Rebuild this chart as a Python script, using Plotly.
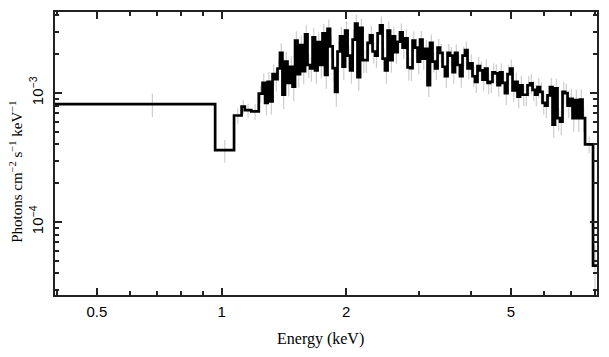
import math
import plotly.graph_objects as go

# Energy bin edges (keV)
energy_edges = [
    0.396, 0.965, 1.072, 1.118, 1.138, 1.180, 1.230,
    1.256, 1.274, 1.292, 1.310, 1.328, 1.346, 1.365, 1.384, 1.403, 1.423, 1.443, 1.464,
    1.484, 1.505, 1.526, 1.547, 1.569, 1.591, 1.613, 1.636, 1.659, 1.682, 1.706, 1.729,
    1.753, 1.778, 1.803, 1.829, 1.855, 1.880, 1.906, 1.933, 1.960, 1.988, 2.016, 2.044,
    2.073, 2.101, 2.130, 2.161, 2.191, 2.222, 2.253, 2.284, 2.316, 2.349, 2.382, 2.415,
    2.449, 2.483, 2.518, 2.553, 2.589, 2.625, 2.662, 2.699, 2.737, 2.775, 2.814, 2.853,
    2.893, 2.934, 2.975, 3.016,
    3.058, 3.101, 3.144, 3.188, 3.233, 3.279, 3.325, 3.371, 3.418, 3.466, 3.515, 3.564,
    3.614, 3.664, 3.715, 3.767, 3.820, 3.874, 3.928, 3.982, 4.038, 4.095, 4.152, 4.210,
    4.269, 4.329, 4.390, 4.451, 4.513, 4.576, 4.640, 4.705, 4.771, 4.838, 4.906, 4.975,
    5.045, 5.115, 5.187, 5.260, 5.334, 5.408, 5.484, 5.561, 5.639, 5.717, 5.797, 5.879,
    5.961, 6.044, 6.129, 6.215, 6.302, 6.390, 6.479, 6.570, 6.662, 6.756, 6.851, 6.946,
    7.043, 7.142, 7.242, 7.343, 7.446, 7.551, 7.894, 8.07,
]

# Unfolded flux, units of 1e-3 photons cm^-2 s^-1 keV^-1
flux = [
    0.82, 0.361, 0.67, 0.785, 0.738, 0.72,
    0.99, 1.20, 0.84, 1.22, 0.86, 1.40, 1.28, 1.55, 2.05, 0.97, 1.75, 1.20,
    1.60, 1.12, 2.55, 1.40, 2.35, 1.48, 2.85, 1.65, 1.55, 2.70, 1.50, 2.48,
    1.65, 2.90, 1.38, 3.15, 2.30, 1.56, 1.02, 2.10, 2.75, 1.60, 3.05, 1.95,
    1.50, 2.60, 3.45, 1.33, 3.20, 1.80, 1.80, 2.45, 2.80, 2.10, 1.95, 2.90,
    3.35, 1.85, 1.50, 3.05, 1.80, 2.75, 2.08, 2.50, 2.95, 2.25, 2.65, 1.58,
    1.56, 2.55, 2.25, 1.75,
    2.60, 1.85, 2.20, 1.15, 2.45, 1.75, 1.55, 2.25, 2.05, 1.60, 1.35, 2.05,
    1.95, 1.45, 2.05, 1.65, 1.35, 1.95, 2.15, 1.55, 1.70, 1.35, 1.22, 1.62,
    1.50, 1.27, 1.55, 1.20, 1.22, 1.45, 1.42, 1.15, 1.45, 1.20, 1.00, 1.40,
    1.55, 1.05, 1.22, 0.94, 1.15, 0.97, 0.97, 1.15, 1.19, 1.06, 0.97, 1.11,
    1.02, 0.84, 0.80, 0.96, 1.11, 0.57, 1.09, 0.64, 0.60, 1.02, 1.00, 0.80,
    0.90, 0.64, 0.88, 0.64, 0.89, 0.64, 0.40, 0.046,
]

flux_err = [
    0.17, 0.072, 0.09, 0.10, 0.09, 0.10,
    0.15, 0.22, 0.17, 0.24, 0.18, 0.27, 0.25, 0.30, 0.38, 0.22, 0.34, 0.26,
    0.32, 0.25, 0.46, 0.30, 0.44, 0.31, 0.52, 0.34, 0.33, 0.50, 0.32, 0.47,
    0.35, 0.53, 0.30, 0.56, 0.45, 0.33, 0.24, 0.42, 0.51, 0.34, 0.55, 0.39,
    0.32, 0.48, 0.60, 0.29, 0.57, 0.37, 0.37, 0.46, 0.51, 0.41, 0.39, 0.52,
    0.58, 0.38, 0.32, 0.54, 0.36, 0.49, 0.40, 0.46, 0.52, 0.42, 0.48, 0.33,
    0.32, 0.46, 0.41, 0.35,
    0.42, 0.34, 0.38, 0.22, 0.40, 0.31, 0.29, 0.38, 0.35, 0.29, 0.26, 0.35,
    0.33, 0.27, 0.34, 0.29, 0.25, 0.33, 0.35, 0.27, 0.29, 0.24, 0.22, 0.28,
    0.26, 0.23, 0.27, 0.22, 0.22, 0.25, 0.25, 0.21, 0.25, 0.22, 0.19, 0.24,
    0.27, 0.20, 0.22, 0.18, 0.21, 0.18, 0.18, 0.21, 0.21, 0.19, 0.18, 0.20,
    0.19, 0.16, 0.16, 0.18, 0.20, 0.12, 0.20, 0.13, 0.13, 0.19, 0.18, 0.16,
    0.18, 0.14, 0.18, 0.14, 0.18, 0.14, 0.06, 0.02,
]

x_tick_vals = [0.5, 1, 2, 5]
x_tick_text = ["0.5", "1", "2", "5"]
x_minor_vals = [0.4, 0.6, 0.7, 0.8, 0.9, 3, 4, 6, 7, 8]
y_tick_vals = [1e-4, 1e-3]
y_tick_text = ["10<sup>\u22124</sup>", "10<sup>\u22123</sup>"]
y_minor_vals = [3e-5, 4e-5, 5e-5, 6e-5, 7e-5, 8e-5, 9e-5,
                2e-4, 3e-4, 4e-4, 5e-4, 6e-4, 7e-4, 8e-4, 9e-4,
                2e-3, 3e-3, 4e-3]

SCALE = 1e-3
y_vals = [v * SCALE for v in flux]
y_errs = [e * SCALE for e in flux_err]
centres = [(a + b) / 2 for a, b in zip(energy_edges[:-1], energy_edges[1:])]

fig = go.Figure()
fig.add_trace(go.Scatter(
    x=centres, y=y_vals, mode="markers",
    marker=dict(size=1, color="rgba(0,0,0,0)"),
    error_y=dict(type="data", array=y_errs, visible=True, color="#c4c4c4",
                 thickness=1, width=0),
    hoverinfo="skip", showlegend=False,
))
fig.add_trace(go.Scatter(
    x=energy_edges, y=y_vals + [y_vals[-1]], mode="lines",
    line=dict(color="black", width=2.7, shape="hv"),
    showlegend=False,
))

axis_color = "#222222"
# the page body keeps an 8px default margin, so the figure is sized to fit inside it
fig.update_layout(
    width=601, height=349,
    margin=dict(l=47, r=12, t=4, b=62),
    paper_bgcolor="white", plot_bgcolor="white",
    font=dict(family="Liberation Sans", color="black", size=15),
    xaxis=dict(
        type="log", range=[math.log10(0.396), math.log10(8.07)],
        tickmode="array", tickvals=x_tick_vals, ticktext=x_tick_text,
        ticks="inside", ticklen=7, tickwidth=1.5, tickcolor=axis_color,
        showline=True, linewidth=1.8, linecolor=axis_color, mirror="allticks",
        showgrid=False, zeroline=False, ticklabelstandoff=2, automargin=False,
        tickfont=dict(family="Liberation Sans", size=15, color="black"),
        minor=dict(tickmode="array", tickvals=x_minor_vals, ticks="inside",
                   ticklen=4, tickwidth=1.5, tickcolor=axis_color, showgrid=False),
    ),
    yaxis=dict(
        type="log", range=[math.log10(2.72e-5), math.log10(4.25e-3)],
        tickmode="array", tickvals=y_tick_vals, ticktext=y_tick_text,
        ticks="inside", ticklen=7, tickwidth=1.5, tickcolor=axis_color,
        showline=True, linewidth=1.8, linecolor=axis_color, mirror="allticks",
        showgrid=False, zeroline=False, tickangle=-90, ticklabelstandoff=4,
        automargin=False,
        tickfont=dict(family="Liberation Sans", size=15, color="black"),
        minor=dict(tickmode="array", tickvals=y_minor_vals, ticks="inside",
                   ticklen=4, tickwidth=1.5, tickcolor=axis_color, showgrid=False),
    ),
    annotations=[
        dict(text="Energy (keV)", xref="paper", yref="paper", x=0.49, y=-0.155,
             xanchor="center", yanchor="middle", showarrow=False,
             font=dict(family="Liberation Serif", size=16, color="black")),
        dict(text="Photons cm<sup>\u22122</sup> s<sup>\u22121</sup> keV<sup>\u22121</sup>",
             xref="paper", yref="paper", x=-0.072, y=0.435, textangle=-90,
             xanchor="center", yanchor="middle", showarrow=False,
             font=dict(family="Liberation Serif", size=15, color="black")),
    ],
)

fig.write_html("out.html")
